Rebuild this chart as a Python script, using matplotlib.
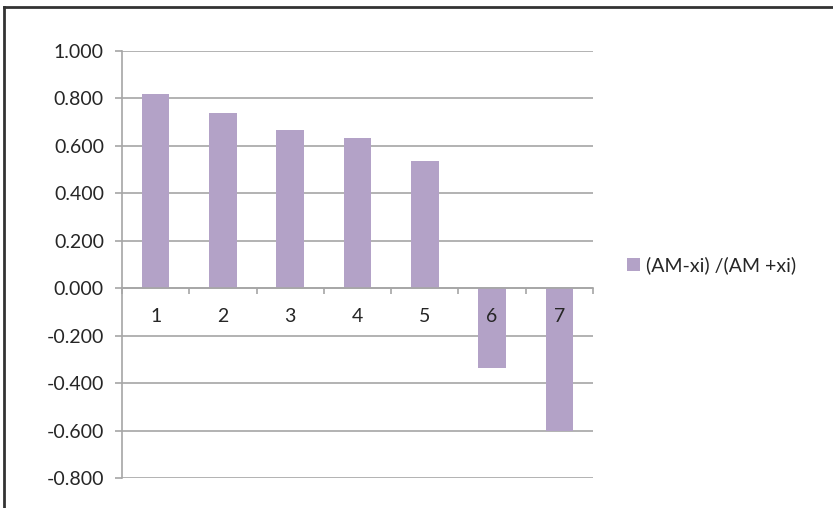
import matplotlib
matplotlib.use("Agg")
import matplotlib.pyplot as plt
from matplotlib.lines import Line2D
import numpy as np

categories = ["1", "2", "3", "4", "5", "6", "7"]
values = [0.817, 0.738, 0.666, 0.632, 0.537, -0.338, -0.600]
series_name = "(AM-xi) /(AM +xi)"
yticks = [-0.8, -0.6, -0.4, -0.2, 0.0, 0.2, 0.4, 0.6, 0.8, 1.0]

plt.rcParams['font.family'] = ['Lato', 'DejaVu Sans']
W, H = 833, 508
fig = plt.figure(figsize=(W / 100, H / 100), dpi=100)
ax = fig.add_axes([122 / W, 1 - 478 / H, (593 - 122) / W, (478 - 51) / H])

bar_color = "#B3A2C7"
grid_color = "#A6A6A6"
text_color = "#262626"
fs = 14

x = np.arange(1, len(categories) + 1)
ax.bar(x, values, width=0.41, color=bar_color, zorder=2, label=series_name)

ax.set_xlim(0.5, len(categories) + 0.5)
ax.set_ylim(yticks[0], yticks[-1])
ax.set_yticks(yticks)
ax.set_yticklabels([f"{v:.3f}" for v in yticks], fontsize=fs, color=text_color)
for v in yticks:
    ax.axhline(v, color=grid_color, lw=1.2, zorder=0)

for s in ["top", "right"]:
    ax.spines[s].set_visible(False)
ax.spines["left"].set_color(grid_color)
ax.spines["left"].set_linewidth(1.2)
ax.spines["bottom"].set_position(("data", 0))
ax.spines["bottom"].set_color(grid_color)
ax.spines["bottom"].set_linewidth(1.2)
ax.tick_params(axis="y", length=5, color=grid_color, width=1.2, pad=8)
ax.set_xticks(np.arange(0.5, len(categories) + 1, 1.0))
ax.set_xticklabels([])
ax.tick_params(axis="x", length=4, direction="out", color=grid_color, width=1.2)

for xi, lab in zip(x, categories):
    ax.annotate(lab, xy=(xi, 0), xytext=(0, -20.5), textcoords="offset points",
                ha="center", va="center", fontsize=fs, color=text_color, zorder=5)

fig.legend(loc="center left", bbox_to_anchor=(627 / W, 1 - 265 / H), frameon=False,
           fontsize=fs, handlelength=0.65, handleheight=0.65, handletextpad=0.35,
           borderaxespad=0, borderpad=0, labelcolor=text_color)

fig.add_artist(Line2D([4 / W, 1], [1 - 7 / H, 1 - 7 / H], color="#333333", lw=2,
                      transform=fig.transFigure))
fig.add_artist(Line2D([4 / W, 4 / W], [0, 1 - 7 / H], color="#333333", lw=2,
                      transform=fig.transFigure))

fig.savefig("out.png", dpi=100)
